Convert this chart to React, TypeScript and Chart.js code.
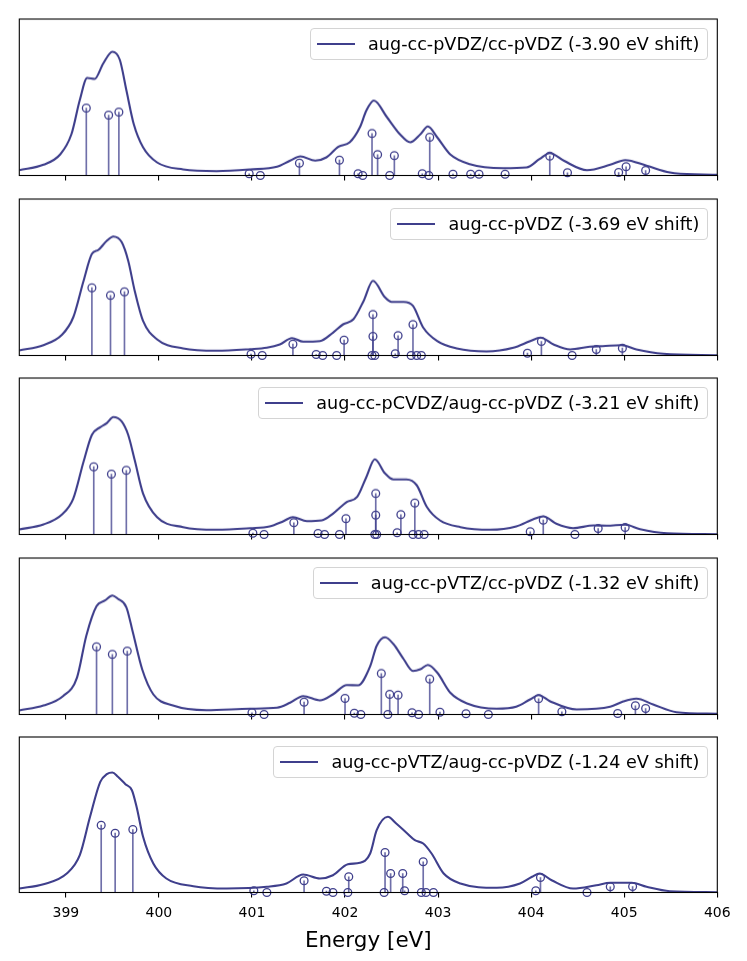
import { useEffect, useRef } from "react";
import { Chart, registerables } from "chart.js";
Chart.register(...registerables);

Chart.defaults.font.family = "'DejaVu Sans', sans-serif";

// x axis (eV)
const X_MIN = 398.5;
const X_MAX = 406;
const TICK_VALUES = [399, 400, 401, 402, 403, 404, 405, 406];
const TICK_LABELS = ["399", "400", "401", "402", "403", "404", "405", "406"];
const Y_MAX = 155.5;

const LEGEND_LABELS = [
  "aug-cc-pVDZ/cc-pVDZ (-3.90 eV shift)",
  "aug-cc-pVDZ (-3.69 eV shift)",
  "aug-cc-pCVDZ/aug-cc-pVDZ (-3.21 eV shift)",
  "aug-cc-pVTZ/cc-pVDZ (-1.32 eV shift)",
  "aug-cc-pVTZ/aug-cc-pVDZ (-1.24 eV shift)",
];

// panel 1: aug-cc-pVDZ/cc-pVDZ
const CURVE1_X = [398.5, 398.76, 398.94, 399.06, 399.15, 399.23, 399.31, 399.4, 399.5, 399.58, 399.65, 399.73, 399.83, 399.98, 400.26, 400.62, 400.98, 401.27, 401.41, 401.52, 401.68, 401.8, 401.93, 402.05, 402.16, 402.23, 402.31, 402.45, 402.59, 402.7, 402.81, 402.89, 402.99, 403.13, 403.34, 403.7, 403.95, 404.09, 404.2, 404.35, 404.6, 404.85, 405.01, 405.24, 405.49, 405.85, 406];
const CURVE1_Y = [5.3, 10.7, 21, 41, 75, 97, 96, 111, 123, 115, 85, 51, 28, 13, 6, 4.3, 6, 8.7, 14.7, 19, 14.7, 18, 28.7, 33, 48, 64.7, 74.5, 58, 41, 33, 41, 48.7, 38, 21, 11.3, 7.3, 8, 16.3, 22.3, 14.7, 5.3, 10.7, 15.3, 9.7, 3, 1, 0.7];
const STICK1_X = [399.22, 399.46, 399.57, 400.97, 401.09, 401.51, 401.94, 402.14, 402.19, 402.29, 402.35, 402.48, 402.53, 402.83, 402.9, 402.91, 403.16, 403.35, 403.44, 403.72, 404.2, 404.39, 404.94, 405.02, 405.23];
const STICK1_Y = [67, 60, 63, 1.7, 0, 12.3, 15.3, 1.7, 0, 41.7, 20.7, 0, 19.7, 1.7, 0, 38, 1.3, 1.3, 1.3, 1.3, 19.3, 2.7, 3, 8.7, 5];

// panel 2: aug-cc-pVDZ
const CURVE2_X = [398.5, 398.76, 398.96, 399.08, 399.19, 399.28, 399.35, 399.44, 399.51, 399.6, 399.67, 399.74, 399.83, 399.98, 400.26, 400.62, 400.98, 401.16, 401.3, 401.43, 401.55, 401.73, 401.87, 401.98, 402.09, 402.2, 402.3, 402.43, 402.5, 402.63, 402.73, 402.84, 402.99, 403.2, 403.52, 403.81, 403.99, 404.1, 404.24, 404.42, 404.63, 404.77, 404.97, 405.13, 405.42, 406];
const CURVE2_Y = [5, 10.3, 20.7, 38, 74, 101, 105, 114, 118.3, 112.7, 94.3, 64.3, 34.3, 16, 7, 4.7, 6.3, 7.7, 11, 17.3, 13.7, 14.3, 22.7, 31, 36, 54.3, 74.3, 57.7, 53.3, 53.3, 49.3, 27.7, 14.3, 7, 4, 7.7, 14.3, 17.7, 11, 6, 8.7, 9.3, 10.3, 6, 1.7, 0.3];
const STICK2_X = [399.28, 399.48, 399.63, 400.99, 401.11, 401.44, 401.69, 401.76, 401.91, 401.99, 402.29, 402.3, 402.3, 402.32, 402.54, 402.57, 402.71, 402.73, 402.77, 402.82, 403.96, 404.11, 404.44, 404.7, 404.98];
const STICK2_Y = [67.3, 59.7, 63.3, 1.3, 0, 11.3, 1, 0, 0, 15.3, 0, 40.7, 19, 0, 1.7, 19.7, 0, 30.7, 0, 0, 2.3, 14, 0, 6, 7.3];

// panel 3: aug-cc-pCVDZ/aug-cc-pVDZ
const CURVE3_X = [398.5, 398.76, 398.96, 399.08, 399.19, 399.28, 399.37, 399.44, 399.51, 399.6, 399.67, 399.74, 399.83, 399.98, 400.26, 400.62, 400.98, 401.19, 401.34, 401.44, 401.59, 401.75, 401.87, 402.02, 402.13, 402.23, 402.32, 402.43, 402.52, 402.66, 402.77, 402.88, 403.02, 403.24, 403.56, 403.84, 404.02, 404.13, 404.27, 404.45, 404.67, 404.81, 405.01, 405.17, 405.46, 406];
const CURVE3_Y = [5, 10, 20, 35.7, 72.3, 99, 106.7, 110.7, 116.7, 112.3, 99, 74, 40.7, 17.3, 7.3, 4.7, 6.3, 8, 13.3, 17.3, 13.3, 14, 20.7, 32.3, 37.3, 57.3, 74.7, 60.7, 54.7, 54.7, 49, 27.3, 14, 7.3, 4.7, 8, 15, 18, 10.7, 6.3, 9, 8.7, 9.7, 5.3, 1.3, 0.3];
const STICK3_X = [399.3, 399.49, 399.65, 401.01, 401.13, 401.45, 401.71, 401.78, 401.94, 402.01, 402.32, 402.33, 402.33, 402.34, 402.56, 402.6, 402.73, 402.75, 402.79, 402.85, 403.99, 404.13, 404.47, 404.72, 405.01];
const STICK3_Y = [67.3, 60, 63.7, 1.3, 0, 11.7, 1, 0, 0, 15.7, 0, 40.7, 19.3, 0, 1.7, 19.7, 0, 31.3, 0, 0, 2.7, 14.3, 0, 6, 7];

// panel 4: aug-cc-pVTZ/cc-pVDZ
const CURVE4_X = [398.5, 398.76, 398.97, 399.12, 399.22, 399.33, 399.42, 399.5, 399.56, 399.65, 399.72, 399.82, 399.94, 400.15, 400.51, 400.98, 401.27, 401.41, 401.55, 401.73, 401.87, 402.02, 402.14, 402.27, 402.34, 402.43, 402.52, 402.63, 402.73, 402.81, 402.89, 402.99, 403.13, 403.31, 403.63, 403.84, 403.99, 404.08, 404.2, 404.49, 404.85, 404.99, 405.13, 405.31, 405.56, 406];
const CURVE4_Y = [4, 9, 18.3, 36.7, 78.3, 107.7, 113.3, 118.3, 115, 106.7, 81.7, 45, 20, 9, 4.3, 5.7, 6.7, 11.7, 18.3, 14, 20, 29.3, 29, 48, 68.3, 76.7, 70, 55, 43.3, 45, 49.3, 41.7, 21.7, 11, 5.7, 7.7, 15, 19.3, 13.3, 5, 7.7, 13, 15.7, 10, 2.3, 0.7];
const STICK4_X = [399.33, 399.5, 399.66, 401.0, 401.13, 401.56, 402.0, 402.1, 402.17, 402.39, 402.46, 402.48, 402.57, 402.72, 402.79, 402.91, 403.02, 403.3, 403.54, 404.08, 404.33, 404.93, 405.12, 405.23];
const STICK4_Y = [67.3, 59.7, 63, 1.7, 0, 12.3, 16, 1.3, 0, 40.7, 0, 20, 19.3, 1.7, 0, 35.3, 2.3, 0.7, 0, 15.7, 2.7, 1, 8.7, 6];

// panel 5: aug-cc-pVTZ/aug-cc-pVDZ
const CURVE5_X = [398.5, 398.76, 399.01, 399.15, 399.26, 399.37, 399.44, 399.5, 399.56, 399.64, 399.71, 399.76, 399.83, 399.94, 400.08, 400.37, 400.73, 401.16, 401.37, 401.55, 401.73, 401.87, 402.03, 402.16, 402.27, 402.34, 402.46, 402.55, 402.66, 402.75, 402.84, 402.93, 403.06, 403.24, 403.63, 403.88, 404.01, 404.09, 404.22, 404.45, 404.7, 404.85, 405.08, 405.24, 405.49, 406];
const CURVE5_Y = [4, 8.3, 19, 37.3, 75.7, 110.7, 118.3, 120, 115.7, 108.3, 102.3, 85.7, 55.7, 29, 14, 6.3, 4, 5.7, 9, 18, 14, 17.3, 28.3, 29.7, 39, 62.3, 75.7, 69, 59.7, 52.3, 49, 39, 19, 9, 4.7, 9, 15.7, 19, 12.3, 4, 7.3, 9.7, 9.7, 5.7, 1.3, 0.3];
const STICK5_X = [399.38, 399.53, 399.72, 401.02, 401.16, 401.56, 401.8, 401.87, 402.03, 402.04, 402.42, 402.43, 402.49, 402.62, 402.64, 402.82, 402.84, 402.87, 402.95, 404.05, 404.1, 404.6, 404.85, 405.09];
const STICK5_Y = [67.3, 59.3, 63, 1.7, 0, 11.7, 1.3, 0, 0, 15.7, 0, 40, 19, 19, 1.7, 0, 30.7, 0, 0, 1.7, 15, 0, 5.7, 6];

const PANELS = [
  { curveX: CURVE1_X, curveY: CURVE1_Y, stickX: STICK1_X, stickY: STICK1_Y },
  { curveX: CURVE2_X, curveY: CURVE2_Y, stickX: STICK2_X, stickY: STICK2_Y },
  { curveX: CURVE3_X, curveY: CURVE3_Y, stickX: STICK3_X, stickY: STICK3_Y },
  { curveX: CURVE4_X, curveY: CURVE4_Y, stickX: STICK4_X, stickY: STICK4_Y },
  { curveX: CURVE5_X, curveY: CURVE5_Y, stickX: STICK5_X, stickY: STICK5_Y },
];

// layout
const PANEL_TOPS = [19, 199, 378, 558, 737];
const PANEL_H = 155.5;
const PAD_T = 6;
const PAD_L = 19.3;
const PAD_R = 747 - 717.3;
const TICK_LEN = 5;
const TICK_PAD = 7;
const TICK_FONT = 14;
const TITLE_FONT = 21.5;
const TITLE_PAD = 0;
const LINE_COLOR = "#3f3f8c";
const STEM_COLOR = "rgba(63,63,140,0.75)";

const framePlugin = {
  id: "frame",
  afterDatasetsDraw(chart: Chart) {
    const { ctx, chartArea: a } = chart;
    ctx.save();
    ctx.strokeStyle = "#000";
    ctx.lineWidth = 1.1;
    ctx.strokeRect(a.left, a.top, a.right - a.left, a.bottom - a.top);
    ctx.restore();
  },
};

type PanelProps = {
  curveX: number[];
  curveY: number[];
  stickX: number[];
  stickY: number[];
  label: string;
  top: number;
  last: boolean;
};

function Panel({ curveX, curveY, stickX, stickY, label, top, last }: PanelProps) {
  const canvasRef = useRef<HTMLCanvasElement>(null);
  const chartRef = useRef<Chart | null>(null);

  // Chart.js reserves the tick padding twice below a horizontal axis
  const height = last
    ? PAD_T + PANEL_H + TICK_LEN + 2 * TICK_PAD + TICK_FONT * 1.2 + TITLE_PAD + TITLE_FONT * 1.2
    : PAD_T + PANEL_H + TICK_LEN + 3;

  useEffect(() => {
    if (!canvasRef.current) return;
    chartRef.current?.destroy();

    const sticks = stickX.map((x, i) => ({ x, y: stickY[i] }));
    const curve = curveX.map((x, i) => ({ x, y: curveY[i] }));

    chartRef.current = new Chart(canvasRef.current, {
      type: "scatter",
      data: {
        datasets: [
          {
            type: "bar",
            data: sticks,
            backgroundColor: STEM_COLOR,
            borderWidth: 0,
            barThickness: 1,
            grouped: false,
            order: 2,
          } as any,
          {
            type: "line",
            data: curve,
            borderColor: LINE_COLOR,
            borderWidth: 2.1,
            pointRadius: 0,
            fill: false,
            cubicInterpolationMode: "monotone",
            order: 1,
          },
          {
            type: "scatter",
            data: sticks,
            pointRadius: 3.9,
            pointBorderWidth: 1.3,
            borderColor: LINE_COLOR,
            backgroundColor: "rgba(0,0,0,0)",
            clip: false,
            order: 0,
          } as any,
        ],
      },
      options: {
        animation: false,
        responsive: true,
        maintainAspectRatio: false,
        events: [],
        layout: {
          padding: { left: PAD_L, right: PAD_R, top: PAD_T, bottom: last ? 0 : 3 },
        },
        plugins: { legend: { display: false }, tooltip: { enabled: false } },
        scales: {
          x: {
            type: "linear",
            min: X_MIN,
            max: X_MAX,
            offset: false,
            afterBuildTicks: (axis: any) => {
              axis.ticks = TICK_VALUES.map((v) => ({ value: v }));
            },
            grid: {
              display: true,
              offset: false,
              drawOnChartArea: false,
              drawTicks: true,
              tickLength: TICK_LEN,
              color: "#000",
              lineWidth: 1.1,
            },
            border: { display: true, color: "#000", width: 1.1 },
            ticks: {
              display: last,
              autoSkip: false,
              maxRotation: 0,
              padding: TICK_PAD,
              color: "#000",
              font: { size: TICK_FONT },
              callback: (v: any) => TICK_LABELS[TICK_VALUES.indexOf(Number(v))],
            },
            title: {
              display: last,
              text: "Energy [eV]",
              color: "#000",
              font: { size: TITLE_FONT },
              padding: { top: TITLE_PAD, bottom: 0 },
            },
          },
          y: { display: false, min: 0, max: Y_MAX },
        },
      },
      plugins: [framePlugin],
    });

    return () => {
      chartRef.current?.destroy();
      chartRef.current = null;
    };
  }, [curveX, curveY, stickX, stickY, last]);

  return (
    <>
      <div style={{ position: "absolute", left: 0, top: top - PAD_T, width: 747, height }}>
        <canvas ref={canvasRef}></canvas>
      </div>
      <div
        style={{
          position: "absolute",
          right: 747 - 708.3,
          top: top + 9,
          height: 32,
          boxSizing: "border-box",
          display: "flex",
          alignItems: "center",
          padding: "0 8px 0 6px",
          background: "rgba(255,255,255,0.8)",
          border: "1px solid #d4d4d4",
          borderRadius: 4,
          fontFamily: "'DejaVu Sans', sans-serif",
          fontSize: 17.6,
          color: "#000",
          whiteSpace: "nowrap",
        }}
      >
        <div style={{ width: 38, height: 2.1, background: LINE_COLOR, marginRight: 13 }} />
        <span>{label}</span>
      </div>
    </>
  );
}

export default function App() {
  return (
    <div style={{ position: "absolute", left: 0, top: 0, width: 747, height: 961, background: "#fff" }}>
      {PANELS.map((p, i) => (
        <Panel
          key={i}
          curveX={p.curveX}
          curveY={p.curveY}
          stickX={p.stickX}
          stickY={p.stickY}
          label={LEGEND_LABELS[i]}
          top={PANEL_TOPS[i]}
          last={i === PANELS.length - 1}
        />
      ))}
    </div>
  );
}
